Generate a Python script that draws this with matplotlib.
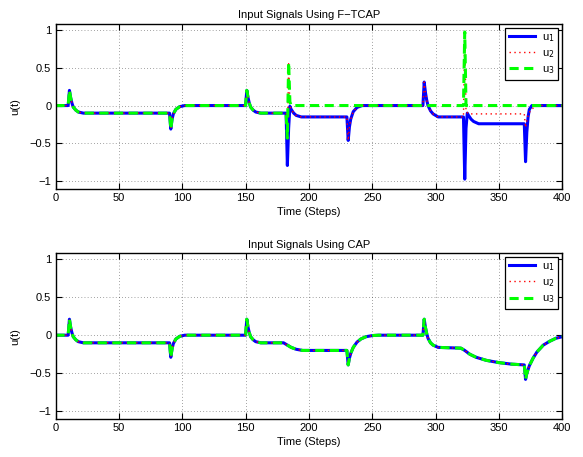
import matplotlib
matplotlib.use("Agg")
import matplotlib.pyplot as plt

plt.rcParams['font.family'] = ['Liberation Sans', 'DejaVu Sans']

# ---------------- F-TCAP (top) ----------------
ftcap_u1_t = [0, 10, 11, 12, 13, 14, 16, 18, 22, 90, 91, 92, 93, 95, 98, 102,
              150, 151, 152, 153, 154, 156, 158, 162, 182, 183, 184, 185, 186, 188, 190, 194,
              230, 231, 232, 233, 235, 238, 242, 290, 291, 292, 293, 294, 296, 298, 302,
              322, 323, 324, 325, 326, 328, 330, 334, 370, 371, 372, 373, 374, 376, 400]
ftcap_u1_v = [0, 0, 0.2, 0.1, 0.03, -0.02, -0.06, -0.085, -0.1, -0.1, -0.31, -0.18, -0.11, -0.05, -0.015, 0,
              0, 0.2, 0.1, 0.03, -0.02, -0.06, -0.085, -0.1, -0.1, -0.79, -0.3, -0.01, -0.05, -0.1, -0.13, -0.15,
              -0.15, -0.46, -0.28, -0.18, -0.08, -0.025, 0, 0, 0.31, 0.17, 0.07, 0.0, -0.07, -0.11, -0.15,
              -0.15, -0.97, -0.3, -0.1, -0.13, -0.18, -0.21, -0.24, -0.24, -0.74, -0.35, -0.15, -0.05, 0, 0]

ftcap_u2_t = [0, 10, 11, 12, 13, 14, 16, 18, 22, 90, 91, 92, 93, 95, 98, 102,
              150, 151, 152, 153, 154, 156, 158, 162, 182, 183, 184, 185, 186, 188, 190, 194,
              230, 231, 232, 233, 235, 238, 242, 290, 291, 292, 293, 294, 296, 298, 302,
              322, 323, 324, 326, 370, 371, 372, 373, 375, 378, 382, 400]
ftcap_u2_v = [0, 0, 0.2, 0.1, 0.03, -0.02, -0.06, -0.085, -0.1, -0.1, -0.31, -0.18, -0.11, -0.05, -0.015, 0,
              0, 0.2, 0.1, 0.03, -0.02, -0.06, -0.085, -0.1, -0.1, -0.42, 0.55, 0.0, -0.05, -0.1, -0.13, -0.15,
              -0.15, -0.46, -0.28, -0.18, -0.08, -0.025, 0, 0, 0.31, 0.17, 0.07, 0.0, -0.07, -0.11, -0.15,
              -0.15, 0.95, -0.08, -0.11, -0.11, -0.29, -0.2, -0.13, -0.06, -0.02, 0, 0]

ftcap_u3_t = [0, 10, 11, 12, 13, 14, 16, 18, 22, 90, 91, 92, 93, 95, 98, 102,
              150, 151, 152, 153, 154, 156, 158, 162, 182, 183, 184, 185, 186,
              322, 323, 324, 400]
ftcap_u3_v = [0, 0, 0.2, 0.1, 0.03, -0.02, -0.06, -0.085, -0.1, -0.1, -0.31, -0.18, -0.11, -0.05, -0.015, 0,
              0, 0.2, 0.1, 0.03, -0.02, -0.06, -0.085, -0.1, -0.1, -0.43, 0.57, 0.05, 0,
              0, 0.97, 0, 0]

# ---------------- CAP (bottom), all three inputs identical ----------------
cap_t = [0, 10, 11, 12, 13, 14, 16, 18, 22, 90, 91, 92, 93, 95, 98, 102,
         150, 151, 152, 153, 154, 156, 158, 162, 180, 183, 186, 190, 195,
         230, 231, 232, 233, 235, 238, 241, 245, 250, 255,
         290, 291, 292, 293, 294, 296, 298, 302, 320, 323, 327, 332, 340, 350, 360,
         370, 371, 372, 374, 377, 380, 385, 390, 395, 400]
cap_u = [0, 0, 0.21, 0.1, 0.03, -0.02, -0.06, -0.085, -0.1, -0.1, -0.29, -0.18, -0.11, -0.05, -0.015, 0,
         0, 0.21, 0.1, 0.03, -0.02, -0.06, -0.085, -0.1, -0.1, -0.13, -0.16, -0.185, -0.2,
         -0.2, -0.39, -0.3, -0.24, -0.16, -0.09, -0.05, -0.02, -0.005, 0,
         0, 0.21, 0.1, 0.02, -0.04, -0.1, -0.13, -0.16, -0.17, -0.2, -0.25, -0.29, -0.33, -0.36, -0.38,
         -0.39, -0.58, -0.5, -0.4, -0.3, -0.22, -0.13, -0.08, -0.04, -0.02]

titles = ["Input Signals Using F\u2212TCAP", "Input Signals Using CAP"]
legend_labels = ["u$_1$", "u$_2$", "u$_3$"]
xticks = [0, 50, 100, 150, 200, 250, 300, 350, 400]
yticks = [-1, -0.5, 0, 0.5, 1]
ytick_labels = ["\u22121", "\u22120.5", "0", "0.5", "1"]

fig = plt.figure(figsize=(5.83, 4.57), dpi=100)
W, H = 583, 457
left = 55.5 / W
width = (562.3 - 55.5) / W
ax1 = fig.add_axes([left, 1 - 189 / H, width, 165 / H])
ax2 = fig.add_axes([left, 1 - 419 / H, width, 165.7 / H])

series_sets = [
    [(ftcap_u1_t, ftcap_u1_v), (ftcap_u2_t, ftcap_u2_v), (ftcap_u3_t, ftcap_u3_v)],
    [(cap_t, cap_u), (cap_t, cap_u), (cap_t, cap_u)],
]

styles = [
    dict(color=(0, 0, 1), linestyle='-', linewidth=2.2),
    dict(color=(1, 0, 0), linestyle=(0, (1, 2.5)), linewidth=1.0),
    dict(color=(0, 1, 0), linestyle=(0, (3, 1.8)), linewidth=2.2),
]

for ax, title, sers in zip([ax1, ax2], titles, series_sets):
    for (t, v), st, lab in zip(sers, styles, legend_labels):
        ax.plot(t, v, label=lab, **st)
    ax.set_xlim(0, 400)
    ax.set_ylim(-1.1, 1.075)
    ax.set_xticks(xticks)
    ax.set_yticks(yticks)
    ax.set_yticklabels(ytick_labels)
    ax.tick_params(direction='in', top=True, right=True, labelsize=8, length=4, width=0.8, pad=3)
    ax.grid(True, color='black', linestyle=(0, (1, 3.5)), linewidth=0.5, alpha=0.7)
    for s in ax.spines.values():
        s.set_linewidth(1.0)
    ax.set_title(title, fontsize=8, pad=4)
    ax.set_xlabel("Time (Steps)", fontsize=8, labelpad=3)
    ax.set_ylabel("u(t)", fontsize=8, labelpad=7)
    leg = ax.legend(loc='upper right', fontsize=8, fancybox=False, framealpha=1,
                    edgecolor='black', handlelength=2.4, borderpad=0.35,
                    labelspacing=0.4, handletextpad=0.6, borderaxespad=0.35)
    leg.get_frame().set_linewidth(0.9)

fig.savefig("out.png", dpi=100)
